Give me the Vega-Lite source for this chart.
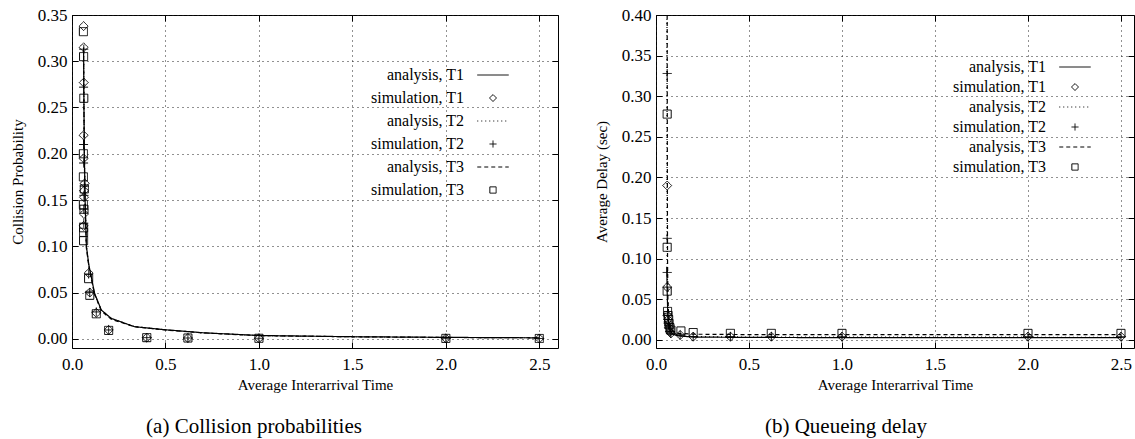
{
  "$schema": "https://vega.github.io/schema/vega-lite/v6.json",
  "padding": {"left": 9, "top": 5, "right": 0, "bottom": 0},
  "background": "white",
  "config": {
    "font": "Liberation Serif",
    "view": {"stroke": "black", "strokeWidth": 1},
    "axis": {
      "labelFont": "Liberation Serif", "labelFontSize": 17, "labelColor": "black", "labelFlush": false,
      "titleFont": "Liberation Serif", "titleFontSize": 15, "titleFontWeight": "normal", "titleColor": "black",
      "domain": false, "grid": true, "gridDash": [1, 4], "gridColor": "#222", "gridWidth": 1,
      "tickColor": "black", "tickSize": -6, "labelPadding": 11
    },
    "legend": {
      "labelFont": "Liberation Serif", "labelFontSize": 16, "labelColor": "black",
      "labelAlign": "right", "labelOffset": -37, "padding": 0,
      "symbolSize": 49, "symbolStrokeColor": "black", "symbolFillColor": "transparent", "symbolStrokeWidth": 1,
      "orient": "none", "title": null
    },
    "title": {"font": "Liberation Serif", "fontSize": 21, "fontWeight": "normal", "color": "black", "orient": "bottom"}
  },
  "bounds": "flush",
  "spacing": 98,
  "resolve": {
    "scale": {"shape": "independent", "strokeDash": "independent"},
    "legend": {"shape": "independent", "strokeDash": "independent"}
  },
  "datasets": {
    "left": [
      {"x": 0.062, "y": 0.315, "series": "analysis, T1"},
      {"x": 0.064, "y": 0.25, "series": "analysis, T1"},
      {"x": 0.066, "y": 0.2, "series": "analysis, T1"},
      {"x": 0.07, "y": 0.15, "series": "analysis, T1"},
      {"x": 0.077, "y": 0.1, "series": "analysis, T1"},
      {"x": 0.09, "y": 0.08, "series": "analysis, T1"},
      {"x": 0.103, "y": 0.067, "series": "analysis, T1"},
      {"x": 0.121, "y": 0.049, "series": "analysis, T1"},
      {"x": 0.157, "y": 0.031, "series": "analysis, T1"},
      {"x": 0.21, "y": 0.022, "series": "analysis, T1"},
      {"x": 0.335, "y": 0.013, "series": "analysis, T1"},
      {"x": 0.5, "y": 0.0097, "series": "analysis, T1"},
      {"x": 0.7, "y": 0.0065, "series": "analysis, T1"},
      {"x": 1.0, "y": 0.0035, "series": "analysis, T1"},
      {"x": 1.5, "y": 0.0022, "series": "analysis, T1"},
      {"x": 2.0, "y": 0.0015, "series": "analysis, T1"},
      {"x": 2.5, "y": 0.001, "series": "analysis, T1"},

      {"x": 0.062, "y": 0.31, "series": "analysis, T2"},
      {"x": 0.064, "y": 0.25, "series": "analysis, T2"},
      {"x": 0.066, "y": 0.2, "series": "analysis, T2"},
      {"x": 0.07, "y": 0.15, "series": "analysis, T2"},
      {"x": 0.077, "y": 0.1, "series": "analysis, T2"},
      {"x": 0.09, "y": 0.079, "series": "analysis, T2"},
      {"x": 0.103, "y": 0.066, "series": "analysis, T2"},
      {"x": 0.121, "y": 0.048, "series": "analysis, T2"},
      {"x": 0.157, "y": 0.031, "series": "analysis, T2"},
      {"x": 0.21, "y": 0.022, "series": "analysis, T2"},
      {"x": 0.335, "y": 0.013, "series": "analysis, T2"},
      {"x": 0.5, "y": 0.0096, "series": "analysis, T2"},
      {"x": 0.7, "y": 0.0064, "series": "analysis, T2"},
      {"x": 1.0, "y": 0.0034, "series": "analysis, T2"},
      {"x": 1.5, "y": 0.0021, "series": "analysis, T2"},
      {"x": 2.0, "y": 0.0014, "series": "analysis, T2"},
      {"x": 2.5, "y": 0.001, "series": "analysis, T2"},

      {"x": 0.062, "y": 0.305, "series": "analysis, T3"},
      {"x": 0.064, "y": 0.245, "series": "analysis, T3"},
      {"x": 0.066, "y": 0.195, "series": "analysis, T3"},
      {"x": 0.07, "y": 0.147, "series": "analysis, T3"},
      {"x": 0.077, "y": 0.098, "series": "analysis, T3"},
      {"x": 0.09, "y": 0.078, "series": "analysis, T3"},
      {"x": 0.103, "y": 0.065, "series": "analysis, T3"},
      {"x": 0.121, "y": 0.048, "series": "analysis, T3"},
      {"x": 0.157, "y": 0.03, "series": "analysis, T3"},
      {"x": 0.21, "y": 0.021, "series": "analysis, T3"},
      {"x": 0.335, "y": 0.013, "series": "analysis, T3"},
      {"x": 0.5, "y": 0.0095, "series": "analysis, T3"},
      {"x": 0.7, "y": 0.0063, "series": "analysis, T3"},
      {"x": 1.0, "y": 0.0034, "series": "analysis, T3"},
      {"x": 1.5, "y": 0.0021, "series": "analysis, T3"},
      {"x": 2.0, "y": 0.0014, "series": "analysis, T3"},
      {"x": 2.5, "y": 0.001, "series": "analysis, T3"},

      {"x": 0.062, "y": 0.338, "series": "simulation, T1"},
      {"x": 0.062, "y": 0.315, "series": "simulation, T1"},
      {"x": 0.063, "y": 0.277, "series": "simulation, T1"},
      {"x": 0.062, "y": 0.22, "series": "simulation, T1"},
      {"x": 0.062, "y": 0.195, "series": "simulation, T1"},
      {"x": 0.068, "y": 0.168, "series": "simulation, T1"},
      {"x": 0.064, "y": 0.16, "series": "simulation, T1"},
      {"x": 0.064, "y": 0.153, "series": "simulation, T1"},
      {"x": 0.064, "y": 0.135, "series": "simulation, T1"},
      {"x": 0.062, "y": 0.122, "series": "simulation, T1"},
      {"x": 0.089, "y": 0.071, "series": "simulation, T1"},
      {"x": 0.095, "y": 0.05, "series": "simulation, T1"},
      {"x": 0.13, "y": 0.028, "series": "simulation, T1"},
      {"x": 0.196, "y": 0.0095, "series": "simulation, T1"},
      {"x": 0.4, "y": 0.0012, "series": "simulation, T1"},
      {"x": 0.62, "y": 0.0008, "series": "simulation, T1"},
      {"x": 1.0, "y": 0.0005, "series": "simulation, T1"},
      {"x": 2.0, "y": 0.0004, "series": "simulation, T1"},
      {"x": 2.5, "y": 0.0003, "series": "simulation, T1"},

      {"x": 0.063, "y": 0.313, "series": "simulation, T2"},
      {"x": 0.062, "y": 0.272, "series": "simulation, T2"},
      {"x": 0.062, "y": 0.21, "series": "simulation, T2"},
      {"x": 0.062, "y": 0.19, "series": "simulation, T2"},
      {"x": 0.066, "y": 0.165, "series": "simulation, T2"},
      {"x": 0.064, "y": 0.155, "series": "simulation, T2"},
      {"x": 0.063, "y": 0.14, "series": "simulation, T2"},
      {"x": 0.063, "y": 0.125, "series": "simulation, T2"},
      {"x": 0.089, "y": 0.07, "series": "simulation, T2"},
      {"x": 0.095, "y": 0.05, "series": "simulation, T2"},
      {"x": 0.13, "y": 0.029, "series": "simulation, T2"},
      {"x": 0.196, "y": 0.0095, "series": "simulation, T2"},
      {"x": 0.4, "y": 0.0012, "series": "simulation, T2"},
      {"x": 0.62, "y": 0.0008, "series": "simulation, T2"},
      {"x": 1.0, "y": 0.0005, "series": "simulation, T2"},
      {"x": 2.0, "y": 0.0004, "series": "simulation, T2"},
      {"x": 2.5, "y": 0.0003, "series": "simulation, T2"},

      {"x": 0.061, "y": 0.332, "series": "simulation, T3"},
      {"x": 0.062, "y": 0.305, "series": "simulation, T3"},
      {"x": 0.063, "y": 0.26, "series": "simulation, T3"},
      {"x": 0.061, "y": 0.2, "series": "simulation, T3"},
      {"x": 0.061, "y": 0.175, "series": "simulation, T3"},
      {"x": 0.066, "y": 0.162, "series": "simulation, T3"},
      {"x": 0.061, "y": 0.145, "series": "simulation, T3"},
      {"x": 0.064, "y": 0.14, "series": "simulation, T3"},
      {"x": 0.062, "y": 0.12, "series": "simulation, T3"},
      {"x": 0.062, "y": 0.115, "series": "simulation, T3"},
      {"x": 0.062, "y": 0.106, "series": "simulation, T3"},
      {"x": 0.089, "y": 0.065, "series": "simulation, T3"},
      {"x": 0.095, "y": 0.047, "series": "simulation, T3"},
      {"x": 0.13, "y": 0.027, "series": "simulation, T3"},
      {"x": 0.196, "y": 0.009, "series": "simulation, T3"},
      {"x": 0.4, "y": 0.0012, "series": "simulation, T3"},
      {"x": 0.62, "y": 0.0008, "series": "simulation, T3"},
      {"x": 1.0, "y": 0.0005, "series": "simulation, T3"},
      {"x": 2.0, "y": 0.0004, "series": "simulation, T3"},
      {"x": 2.5, "y": 0.0003, "series": "simulation, T3"}
    ],
    "right": [
      {"x": 0.058, "y": 0.09, "series": "analysis, T1"},
      {"x": 0.06, "y": 0.06, "series": "analysis, T1"},
      {"x": 0.063, "y": 0.035, "series": "analysis, T1"},
      {"x": 0.067, "y": 0.022, "series": "analysis, T1"},
      {"x": 0.075, "y": 0.012, "series": "analysis, T1"},
      {"x": 0.09, "y": 0.007, "series": "analysis, T1"},
      {"x": 0.12, "y": 0.005, "series": "analysis, T1"},
      {"x": 0.2, "y": 0.0035, "series": "analysis, T1"},
      {"x": 0.5, "y": 0.003, "series": "analysis, T1"},
      {"x": 1.0, "y": 0.0028, "series": "analysis, T1"},
      {"x": 2.5, "y": 0.0027, "series": "analysis, T1"},

      {"x": 0.059, "y": 0.4, "series": "analysis, T2"},
      {"x": 0.0595, "y": 0.2, "series": "analysis, T2"},
      {"x": 0.06, "y": 0.1, "series": "analysis, T2"},
      {"x": 0.063, "y": 0.05, "series": "analysis, T2"},
      {"x": 0.067, "y": 0.03, "series": "analysis, T2"},
      {"x": 0.075, "y": 0.015, "series": "analysis, T2"},
      {"x": 0.09, "y": 0.008, "series": "analysis, T2"},
      {"x": 0.12, "y": 0.005, "series": "analysis, T2"},
      {"x": 0.2, "y": 0.004, "series": "analysis, T2"},
      {"x": 0.5, "y": 0.0035, "series": "analysis, T2"},
      {"x": 2.5, "y": 0.0032, "series": "analysis, T2"},

      {"x": 0.06, "y": 0.4, "series": "analysis, T3"},
      {"x": 0.061, "y": 0.2, "series": "analysis, T3"},
      {"x": 0.062, "y": 0.1, "series": "analysis, T3"},
      {"x": 0.064, "y": 0.05, "series": "analysis, T3"},
      {"x": 0.068, "y": 0.03, "series": "analysis, T3"},
      {"x": 0.075, "y": 0.018, "series": "analysis, T3"},
      {"x": 0.09, "y": 0.011, "series": "analysis, T3"},
      {"x": 0.12, "y": 0.008, "series": "analysis, T3"},
      {"x": 0.2, "y": 0.007, "series": "analysis, T3"},
      {"x": 0.5, "y": 0.0065, "series": "analysis, T3"},
      {"x": 2.5, "y": 0.0065, "series": "analysis, T3"},

      {"x": 0.06, "y": 0.19, "series": "simulation, T1"},
      {"x": 0.06, "y": 0.065, "series": "simulation, T1"},
      {"x": 0.062, "y": 0.03, "series": "simulation, T1"},
      {"x": 0.065, "y": 0.025, "series": "simulation, T1"},
      {"x": 0.068, "y": 0.02, "series": "simulation, T1"},
      {"x": 0.07, "y": 0.015, "series": "simulation, T1"},
      {"x": 0.075, "y": 0.01, "series": "simulation, T1"},
      {"x": 0.08, "y": 0.008, "series": "simulation, T1"},
      {"x": 0.13, "y": 0.006, "series": "simulation, T1"},
      {"x": 0.2, "y": 0.004, "series": "simulation, T1"},
      {"x": 0.4, "y": 0.004, "series": "simulation, T1"},
      {"x": 0.62, "y": 0.004, "series": "simulation, T1"},
      {"x": 1.0, "y": 0.004, "series": "simulation, T1"},
      {"x": 2.0, "y": 0.004, "series": "simulation, T1"},
      {"x": 2.5, "y": 0.004, "series": "simulation, T1"},

      {"x": 0.06, "y": 0.328, "series": "simulation, T2"},
      {"x": 0.06, "y": 0.125, "series": "simulation, T2"},
      {"x": 0.06, "y": 0.083, "series": "simulation, T2"},
      {"x": 0.062, "y": 0.032, "series": "simulation, T2"},
      {"x": 0.065, "y": 0.022, "series": "simulation, T2"},
      {"x": 0.068, "y": 0.018, "series": "simulation, T2"},
      {"x": 0.07, "y": 0.014, "series": "simulation, T2"},
      {"x": 0.075, "y": 0.01, "series": "simulation, T2"},
      {"x": 0.08, "y": 0.008, "series": "simulation, T2"},
      {"x": 0.13, "y": 0.006, "series": "simulation, T2"},
      {"x": 0.2, "y": 0.004, "series": "simulation, T2"},
      {"x": 0.4, "y": 0.004, "series": "simulation, T2"},
      {"x": 0.62, "y": 0.004, "series": "simulation, T2"},
      {"x": 1.0, "y": 0.004, "series": "simulation, T2"},
      {"x": 2.0, "y": 0.004, "series": "simulation, T2"},
      {"x": 2.5, "y": 0.004, "series": "simulation, T2"},

      {"x": 0.06, "y": 0.278, "series": "simulation, T3"},
      {"x": 0.06, "y": 0.114, "series": "simulation, T3"},
      {"x": 0.06, "y": 0.06, "series": "simulation, T3"},
      {"x": 0.062, "y": 0.035, "series": "simulation, T3"},
      {"x": 0.065, "y": 0.03, "series": "simulation, T3"},
      {"x": 0.068, "y": 0.025, "series": "simulation, T3"},
      {"x": 0.07, "y": 0.02, "series": "simulation, T3"},
      {"x": 0.075, "y": 0.015, "series": "simulation, T3"},
      {"x": 0.08, "y": 0.012, "series": "simulation, T3"},
      {"x": 0.134, "y": 0.011, "series": "simulation, T3"},
      {"x": 0.2, "y": 0.009, "series": "simulation, T3"},
      {"x": 0.4, "y": 0.008, "series": "simulation, T3"},
      {"x": 0.62, "y": 0.008, "series": "simulation, T3"},
      {"x": 1.0, "y": 0.008, "series": "simulation, T3"},
      {"x": 2.0, "y": 0.008, "series": "simulation, T3"},
      {"x": 2.5, "y": 0.008, "series": "simulation, T3"}
    ]
  },
  "hconcat": [
    {
      "width": 486,
      "height": 333,
      "data": {"name": "left"},
      "title": {"text": "(a) Collision probabilities", "dx": -61, "offset": 24},
      "resolve": {"axis": {"x": "independent", "y": "independent"}},
      "encoding": {
        "strokeDash": {"field": "series", "type": "nominal",
          "scale": {"domain": ["analysis, T1", "simulation, T1", "analysis, T2", "simulation, T2", "analysis, T3", "simulation, T3"],
                    "range": [[1, 0], [1, 0], [1, 3], [1, 0], [4, 3], [1, 0]]},
          "legend": {"legendX": 413, "legendY": 52, "rowPadding": 7}}
      },
      "layer": [
        {
          "transform": [{"filter": "indexof(datum.series, 'analysis') === 0"}],
          "mark": {"type": "line", "color": "black", "strokeWidth": 1.2},
          "encoding": {
            "x": {"field": "x", "type": "quantitative", "scale": {"domain": [0, 2.6], "nice": false, "zero": false},
                  "axis": {"title": "Average Interarrival Time", "values": [0, 0.5, 1, 1.5, 2, 2.5], "format": ".1f", "labelPadding": 14, "titlePadding": 5}},
            "y": {"field": "y", "type": "quantitative", "scale": {"domain": [-0.01, 0.35], "nice": false, "zero": false},
                  "axis": {"title": "Collision Probability", "values": [0, 0.05, 0.1, 0.15, 0.2, 0.25, 0.3, 0.35], "format": ".2f", "titlePadding": 12}},
            "order": {"field": "x", "type": "quantitative"}
          }
        },
        {
          "transform": [{"filter": "indexof(datum.series, 'simulation') === 0"}],
          "mark": {"type": "point", "filled": false, "color": "black", "strokeWidth": 1, "size": 81, "opacity": 1},
          "encoding": {
            "x": {"field": "x", "type": "quantitative", "scale": {"domain": [0, 2.6], "nice": false, "zero": false},
                  "axis": {"orient": "top", "title": null, "labels": false, "grid": false, "values": [0, 0.5, 1, 1.5, 2, 2.5]}},
            "y": {"field": "y", "type": "quantitative", "scale": {"domain": [-0.01, 0.35], "nice": false, "zero": false},
                  "axis": {"orient": "right", "title": null, "labels": false, "grid": false, "values": [0, 0.05, 0.1, 0.15, 0.2, 0.25, 0.3, 0.35]}},
            "shape": {"field": "series", "type": "nominal",
              "scale": {"domain": ["analysis, T1", "simulation, T1", "analysis, T2", "simulation, T2", "analysis, T3", "simulation, T3"],
                        "range": ["M-4.5,0L4.5,0", "M0,-1L1,0L0,1L-1,0Z", "M-4.5,0L4.5,0", "M-1,0L1,0M0,-1L0,1", "M-4.5,0L4.5,0", "M-0.9,-0.9L0.9,-0.9L0.9,0.9L-0.9,0.9Z"]},
              "legend": {"legendX": 413, "legendY": 52, "rowPadding": 7}}
          }
        }
      ]
    },
    {
      "width": 478,
      "height": 333,
      "data": {"name": "right"},
      "title": {"text": "(b) Queueing delay", "dx": -49, "offset": 24},
      "resolve": {"axis": {"x": "independent", "y": "independent"}},
      "encoding": {
        "strokeDash": {"field": "series", "type": "nominal",
          "scale": {"domain": ["analysis, T1", "simulation, T1", "analysis, T2", "simulation, T2", "analysis, T3", "simulation, T3"],
                    "range": [[1, 0], [1, 0], [1, 3], [1, 0], [4, 3], [1, 0]]},
          "legend": {"legendX": 411, "legendY": 44, "rowPadding": 4}}
      },
      "layer": [
        {
          "transform": [{"filter": "indexof(datum.series, 'analysis') === 0"}],
          "mark": {"type": "line", "color": "black", "strokeWidth": 1.2},
          "encoding": {
            "x": {"field": "x", "type": "quantitative", "scale": {"domain": [0, 2.57], "nice": false, "zero": false},
                  "axis": {"title": "Average Interarrival Time", "values": [0, 0.5, 1, 1.5, 2, 2.5], "format": ".1f", "labelPadding": 14, "titlePadding": 5}},
            "y": {"field": "y", "type": "quantitative", "scale": {"domain": [-0.01, 0.40], "nice": false, "zero": false},
                  "axis": {"title": "Average Delay (sec)", "values": [0, 0.05, 0.1, 0.15, 0.2, 0.25, 0.3, 0.35, 0.4], "format": ".2f", "titlePadding": 12}},
            "order": {"field": "x", "type": "quantitative"}
          }
        },
        {
          "transform": [{"filter": "indexof(datum.series, 'simulation') === 0"}],
          "mark": {"type": "point", "filled": false, "color": "black", "strokeWidth": 1, "size": 81, "opacity": 1},
          "encoding": {
            "x": {"field": "x", "type": "quantitative", "scale": {"domain": [0, 2.57], "nice": false, "zero": false},
                  "axis": {"orient": "top", "title": null, "labels": false, "grid": false, "values": [0, 0.5, 1, 1.5, 2, 2.5]}},
            "y": {"field": "y", "type": "quantitative", "scale": {"domain": [-0.01, 0.40], "nice": false, "zero": false},
                  "axis": {"orient": "right", "title": null, "labels": false, "grid": false, "values": [0, 0.05, 0.1, 0.15, 0.2, 0.25, 0.3, 0.35, 0.4]}},
            "shape": {"field": "series", "type": "nominal",
              "scale": {"domain": ["analysis, T1", "simulation, T1", "analysis, T2", "simulation, T2", "analysis, T3", "simulation, T3"],
                        "range": ["M-4.5,0L4.5,0", "M0,-1L1,0L0,1L-1,0Z", "M-4.5,0L4.5,0", "M-1,0L1,0M0,-1L0,1", "M-4.5,0L4.5,0", "M-0.9,-0.9L0.9,-0.9L0.9,0.9L-0.9,0.9Z"]},
              "legend": {"legendX": 411, "legendY": 44, "rowPadding": 4}}
          }
        }
      ]
    }
  ]
}
